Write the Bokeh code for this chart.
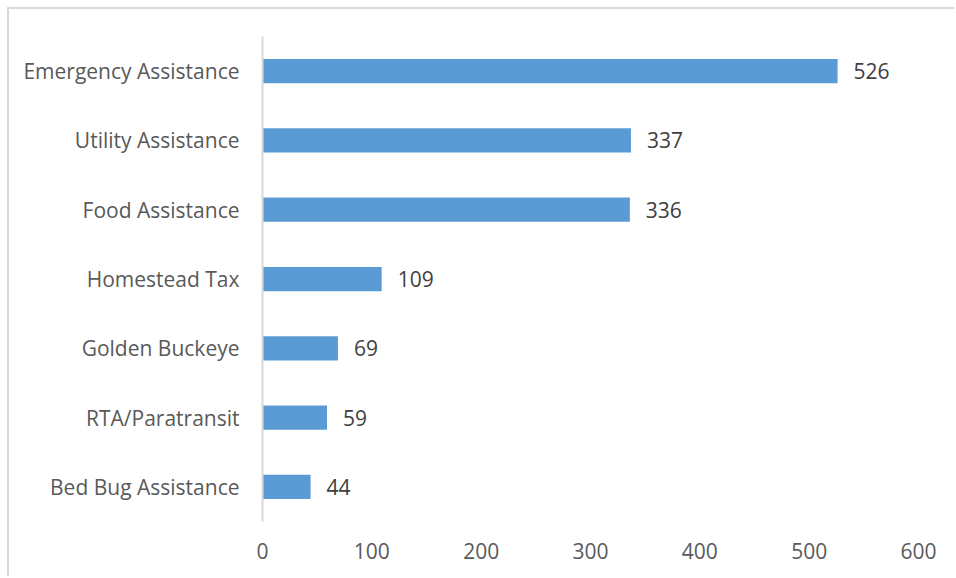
from bokeh.plotting import figure
from bokeh.models import ColumnDataSource, FactorRange, Range1d, FixedTicker
from bokeh.core.properties import value
from bokeh.embed import file_html
from bokeh.resources import INLINE

categories = ["Emergency Assistance", "Utility Assistance", "Food Assistance",
              "Homestead Tax", "Golden Buckeye", "RTA/Paratransit", "Bed Bug Assistance"]
counts = [526, 337, 336, 109, 69, 59, 44]
x_ticks = [0, 100, 200, 300, 400, 500, 600]

FONT = "Open Sans"

src = ColumnDataSource(dict(cat=categories, val=counts, lbl=[str(v) for v in counts]))

p = figure(width=947, height=569, output_backend="svg", toolbar_location=None,
           y_range=FactorRange(*categories[::-1], range_padding=0),
           x_range=Range1d(0, 600),
           min_border_left=253, min_border_right=38, min_border_top=27, min_border_bottom=57,
           styles={"margin-left": "7px", "margin-top": "7px",
                   "border-left": "2px solid #d9d9d9", "border-top": "2px solid #d9d9d9"})

p.hbar(y="cat", right="val", left=0, height=0.35, source=src, color="#5b9bd5", line_color=None)
p.text(x="val", y="cat", text="lbl", source=src, x_offset=16, text_align="left",
       text_baseline="middle", text_font=value(FONT), text_font_size="21px", text_color="#404040")

p.outline_line_color = None
p.xgrid.grid_line_color = None
p.ygrid.grid_line_color = None

p.xaxis.ticker = FixedTicker(ticks=x_ticks)
p.xaxis.axis_line_color = None
p.xaxis.major_tick_line_color = None
p.xaxis.minor_tick_line_color = None
p.xaxis.major_label_text_font = FONT
p.xaxis.major_label_text_font_size = "21px"
p.xaxis.major_label_text_color = "#595959"
p.xaxis.major_label_standoff = 15

p.yaxis.axis_line_color = "#d9d9d9"
p.yaxis.axis_line_width = 2
p.yaxis.major_tick_line_color = None
p.yaxis.minor_tick_line_color = None
p.yaxis.major_label_text_font = FONT
p.yaxis.major_label_text_font_size = "21px"
p.yaxis.major_label_text_color = "#595959"
p.yaxis.major_label_standoff = 17

open("out.html", "w").write(file_html(p, INLINE))
